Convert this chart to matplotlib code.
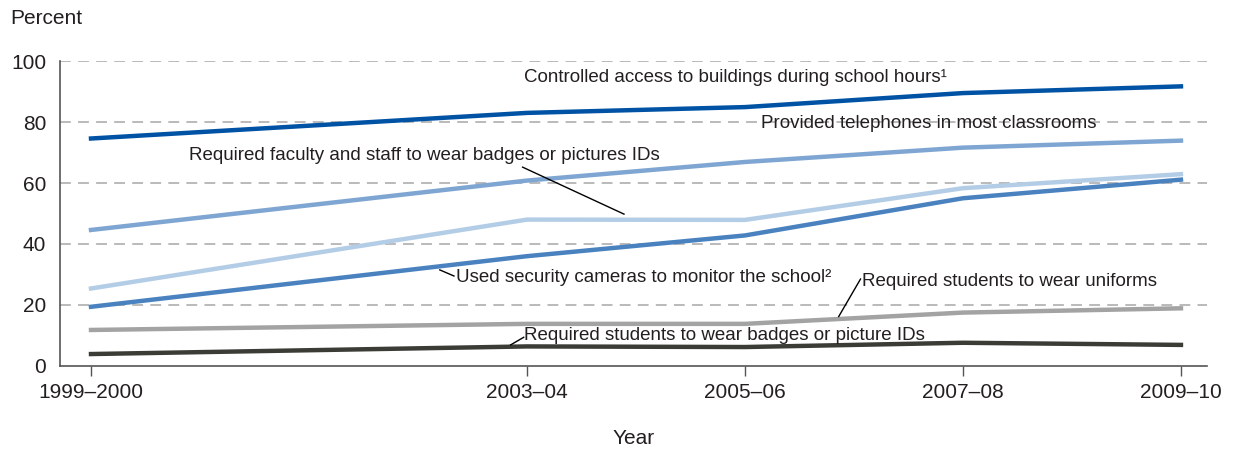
import matplotlib.pyplot as plt

plt.rcParams['font.family'] = ['Liberation Sans', 'DejaVu Sans']

years = [1999, 2003, 2005, 2007, 2009]
year_labels = ['1999\u20132000', '2003\u201304', '2005\u201306', '2007\u201308', '2009\u201310']

controlled_access = [74.6, 83.0, 84.9, 89.5, 91.7]
telephones = [44.6, 60.8, 66.9, 71.6, 73.9]
faculty_badges = [25.4, 48.0, 47.9, 58.3, 62.9]
security_cameras = [19.4, 36.0, 42.8, 55.0, 61.1]
uniforms = [11.8, 13.8, 13.8, 17.5, 18.9]
student_badges = [3.9, 6.4, 6.2, 7.6, 6.9]

fig = plt.figure(figsize=(12.33, 4.49), dpi=100)
ax = fig.add_axes([0.0487, 0.185, 0.9303, 0.679])

for y in [20, 40, 60, 80, 100]:
    ax.axhline(y, color='#b4b4b4', lw=1.3, dashes=(6, 4), zorder=1)

ax.plot(years, student_badges, color='#3c3c37', lw=3.2, zorder=3)
ax.plot(years, uniforms, color='#a3a3a3', lw=3.2, zorder=3)
ax.plot(years, faculty_badges, color='#b4cde6', lw=3.2, zorder=3)
ax.plot(years, security_cameras, color='#4a82c0', lw=3.2, zorder=4)
ax.plot(years, telephones, color='#7fa6d2', lw=3.2, zorder=3)
ax.plot(years, controlled_access, color='#0053a4', lw=3.2, zorder=3)

ax.set_xlim(1998.716, 2009.24)
ax.set_ylim(0, 100)
ax.set_xticks(years)
ax.set_xticklabels(year_labels)
ax.set_yticks([0, 20, 40, 60, 80, 100])
ax.tick_params(axis='y', length=0, pad=10, labelsize=15, colors='#231f20')
ax.tick_params(axis='x', length=7, width=1, pad=5, labelsize=15, colors='#231f20', color='#555555')
for s in ['top', 'right']:
    ax.spines[s].set_visible(False)
for s in ['left', 'bottom']:
    ax.spines[s].set_color('#555555')
    ax.spines[s].set_linewidth(1.2)

fs = 13.5
tc = '#231f20'
ax.text(2002.97, 94.6, 'Controlled access to buildings during school hours\u00b9', fontsize=fs, color=tc, va='center')
ax.text(2005.15, 79.5, 'Provided telephones in most classrooms', fontsize=fs, color=tc, va='center')
ax.text(1999.9, 69.0, 'Required faculty and staff to wear badges or pictures IDs', fontsize=fs, color=tc, va='center')
ax.plot([2002.96, 2003.89], [65.2, 49.8], color='black', lw=1, zorder=5)
ax.text(2002.35, 29.0, 'Used security cameras to monitor the school\u00b2', fontsize=fs, color=tc, va='center')
ax.plot([2002.2, 2002.33], [31.5, 29.5], color='black', lw=1, zorder=5)
ax.text(2006.07, 27.7, 'Required students to wear uniforms', fontsize=fs, color=tc, va='center')
ax.plot([2006.06, 2005.86], [28.5, 16.2], color='black', lw=1, zorder=5)
ax.text(2002.97, 10.0, 'Required students to wear badges or picture IDs', fontsize=fs, color=tc, va='center')
ax.plot([2002.85, 2002.97], [6.9, 9.4], color='black', lw=1, zorder=5)

fig.text(10 / 1233, 1 - 18 / 449, 'Percent', fontsize=15, color=tc, va='center', ha='left')
fig.text(634 / 1233, 1 - 438 / 449, 'Year', fontsize=15, color=tc, va='center', ha='center')

fig.savefig('out.png', dpi=100)
